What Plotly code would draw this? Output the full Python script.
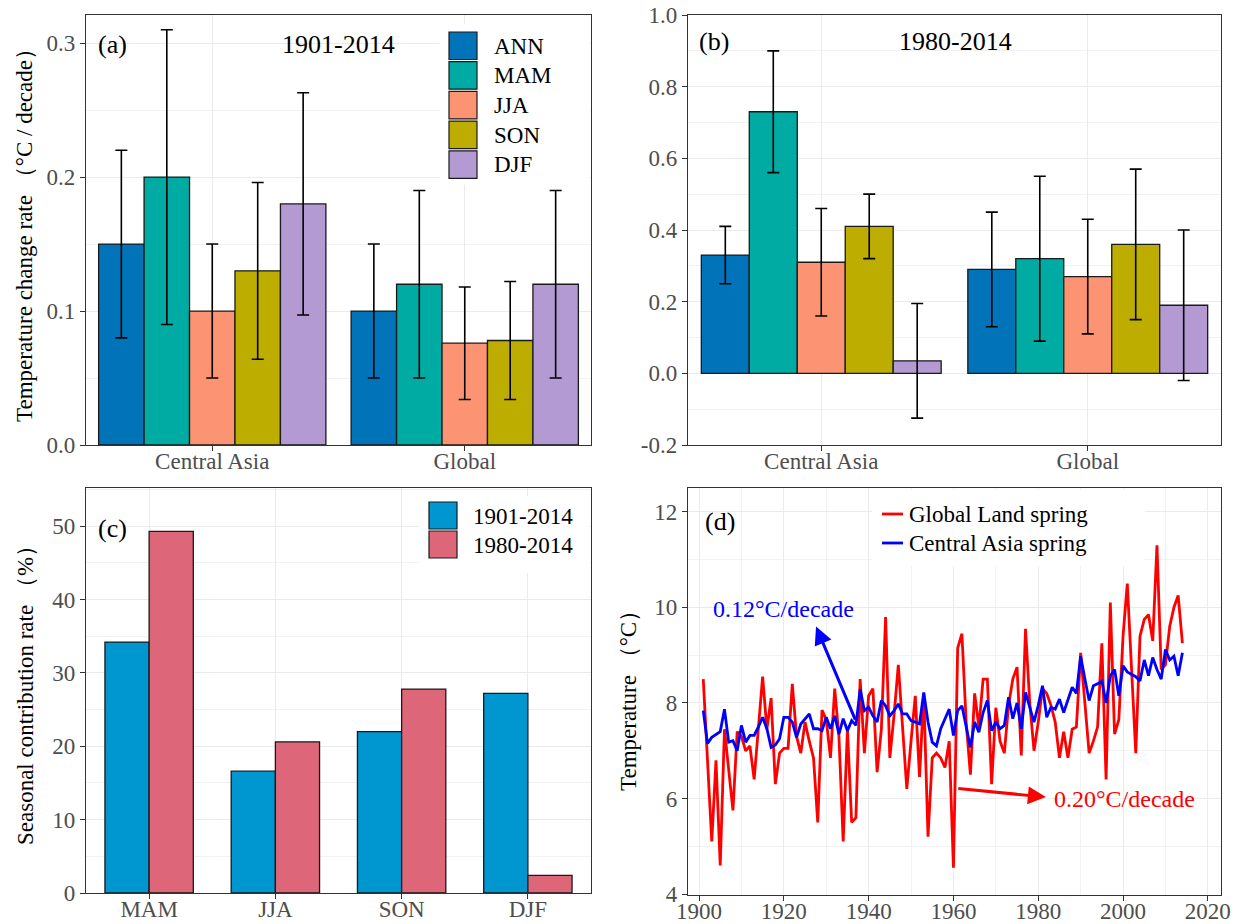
import plotly.graph_objects as go

# ---------------- data ----------------
regions = ["Central Asia", "Global"]
seasons = ["ANN", "MAM", "JJA", "SON", "DJF"]
season_colors = ["#0173B8", "#00ABA3", "#FC9473", "#BDAD00", "#B39AD3"]

# (a) 1901-2014 trend (°C/decade): rows = seasons, cols = regions
a_rates = [[0.150, 0.100], [0.200, 0.120], [0.100, 0.076], [0.130, 0.078], [0.180, 0.120]]
a_low = [[0.080, 0.050], [0.090, 0.050], [0.050, 0.034], [0.064, 0.034], [0.097, 0.050]]
a_high = [[0.220, 0.150], [0.310, 0.190], [0.150, 0.118], [0.196, 0.122], [0.263, 0.190]]

# (b) 1980-2014 trend (°C/decade)
b_rates = [[0.33, 0.29], [0.73, 0.32], [0.31, 0.27], [0.41, 0.36], [0.035, 0.19]]
b_low = [[0.25, 0.13], [0.56, 0.09], [0.16, 0.11], [0.32, 0.15], [-0.125, -0.02]]
b_high = [[0.41, 0.45], [0.90, 0.55], [0.46, 0.43], [0.50, 0.57], [0.195, 0.40]]

# (c) seasonal contribution rate (%)
c_seasons = ["MAM", "JJA", "SON", "DJF"]
c_periods = ["1901-2014", "1980-2014"]
c_1901_2014 = [34.2, 16.6, 22.0, 27.2]
c_1980_2014 = [49.3, 20.6, 27.8, 2.4]
c_colors = ["#0096CF", "#DD6679"]

# (d) spring temperature series (°C)
years = list(range(1901, 2015))
global_land_spring = [
    8.5, 6.8, 5.1, 6.8, 4.6, 7.45, 6.6, 5.75, 7.4, 7.3,
    7.0, 7.1, 6.4, 7.5, 8.55, 7.45, 8.1, 6.3, 6.95, 7.05,
    7.05, 8.4, 7.3, 6.95, 7.6, 7.2, 6.85, 5.5, 7.85, 7.65,
    6.85, 8.3, 7.3, 5.1, 7.45, 5.5, 5.6, 8.5, 6.95, 8.15,
    8.3, 6.55, 7.45, 9.8, 6.85, 7.75, 8.8, 7.5, 6.2, 7.2,
    8.15, 6.45, 8.2, 5.2, 6.85, 6.95, 6.85, 6.65, 7.2, 4.55,
    9.15, 9.45, 7.6, 6.5, 8.2, 7.5, 8.5, 8.5, 6.3, 7.9,
    7.2, 6.95, 7.95, 8.5, 8.75, 6.9, 9.55, 8.0, 7.0, 7.6,
    8.3, 8.2, 7.95, 7.6, 6.85, 7.4, 6.85, 7.45, 7.5, 9.05,
    7.9, 6.95, 7.2, 7.5, 9.25, 6.4, 10.1, 7.35, 7.65, 9.4,
    10.5, 8.7, 6.95, 9.4, 9.75, 9.85, 9.3, 11.3, 8.7, 8.8,
    9.6, 10.0, 10.25, 9.25]
central_asia_spring = [
    7.84, 7.15, 7.28, 7.35, 7.4, 7.87, 7.18, 7.21, 7.0, 7.53,
    7.18, 7.32, 7.32, 7.5, 7.7, 7.46, 7.07, 7.12, 7.25, 7.7,
    7.7, 7.6, 7.28, 7.56, 7.67, 7.77, 7.46, 7.46, 7.42, 7.7,
    7.46, 7.73, 7.35, 7.67, 7.42, 7.63, 7.53, 8.29, 7.84, 7.91,
    7.73, 7.6, 8.05, 7.94, 7.73, 7.84, 7.98, 7.77, 7.77, 7.63,
    7.6, 7.56, 8.22, 7.6, 7.18, 7.1, 7.46, 7.67, 7.87, 7.32,
    7.84, 7.94, 7.5, 7.07, 7.6, 7.39, 7.8, 8.05, 7.42, 7.6,
    7.46, 7.53, 8.12, 7.67, 8.0, 7.46, 8.22, 7.9, 7.6, 7.95,
    8.36, 7.7, 7.91, 7.87, 8.08, 7.8, 8.08, 8.33, 8.2, 8.98,
    8.5, 8.05, 8.36, 8.4, 8.46, 8.0, 8.57, 8.7, 8.15, 8.78,
    8.65, 8.6, 8.55, 8.46, 8.9, 8.57, 8.95, 8.7, 8.5, 9.12,
    8.9, 8.98, 8.57, 9.05]

# ---------------- helpers ----------------
W, H = 1239, 924
SERIF = "Liberation Serif, Times New Roman, serif"


def fx(p):
    return p / W


def fy(p):
    return 1 - p / H


def axis_style(**kw):
    base = dict(
        showline=True, mirror=True, linecolor="#333333", linewidth=1.3,
        ticks="outside", ticklen=5, tickwidth=1.3, tickcolor="#333333",
        tickfont=dict(family=SERIF, size=23, color="#4D4D4D"),
        showgrid=True, gridcolor="#EBEBEB", gridwidth=1.2, zeroline=False,
        automargin=False,
    )
    base.update(kw)
    return base


fig = go.Figure()

# ---------------- (a) and (b) grouped bars ----------------
bw = 0.18
for rates, low, high, xa, ya in [
        (a_rates, a_low, a_high, "x", "y"),
        (b_rates, b_low, b_high, "x2", "y2")]:
    for i, s in enumerate(seasons):
        vals = rates[i]
        plus = [h - v for h, v in zip(high[i], vals)]
        minus = [v - l for v, l in zip(vals, low[i])]
        fig.add_trace(go.Bar(
            x=regions, y=vals, name=s, xaxis=xa, yaxis=ya,
            width=bw, offset=-0.45 + bw * i,
            marker=dict(color=season_colors[i], line=dict(color="#1a1a1a", width=1.3)),
            error_y=dict(type="data", symmetric=False, array=plus, arrayminus=minus,
                         color="black", thickness=1.6, width=6),
            showlegend=False,
        ))

# ---------------- (c) contribution bars ----------------
for j, (vals, per) in enumerate([(c_1901_2014, c_periods[0]), (c_1980_2014, c_periods[1])]):
    fig.add_trace(go.Bar(
        x=c_seasons, y=vals, name=per, xaxis="x3", yaxis="y3",
        width=0.35, offset=-0.35 + 0.35 * j,
        marker=dict(color=c_colors[j], line=dict(color="#1a1a1a", width=1.3)),
        showlegend=False,
    ))

# ---------------- (d) time series ----------------
fig.add_trace(go.Scatter(x=years, y=global_land_spring, mode="lines", name="Global Land spring",
                         line=dict(color="#FF0000", width=2.8), xaxis="x4", yaxis="y4", showlegend=False))
fig.add_trace(go.Scatter(x=years, y=central_asia_spring, mode="lines", name="Central Asia spring",
                         line=dict(color="#0000FF", width=2.8), xaxis="x4", yaxis="y4", showlegend=False))

# ---------------- axes ----------------
ax_a = [fx(86), fx(591)]
ax_b = [fx(688), fx(1221)]
top_y = [fy(445), fy(15)]
bot_y = [fy(895), fy(488)]

fig.update_layout(
    xaxis=axis_style(domain=ax_a, anchor="y", type="category", range=[-0.5, 1.5],
                     categoryorder="array", categoryarray=regions),
    yaxis=axis_style(domain=top_y, anchor="x", range=[0, 0.321],
                     tickvals=[0, 0.1, 0.2, 0.3], ticktext=["0.0", "0.1", "0.2", "0.3"],
                     minor=dict(tickvals=[0.05, 0.15, 0.25], showgrid=True,
                                gridcolor="#F2F2F2", gridwidth=0.8)),
    xaxis2=axis_style(domain=ax_b, anchor="y2", type="category", range=[-0.5, 1.5],
                      categoryorder="array", categoryarray=regions),
    yaxis2=axis_style(domain=top_y, anchor="x2", range=[-0.2, 1.0],
                      tickvals=[-0.2, 0, 0.2, 0.4, 0.6, 0.8, 1.0],
                      ticktext=["-0.2", "0.0", "0.2", "0.4", "0.6", "0.8", "1.0"],
                      minor=dict(tickvals=[-0.1, 0.1, 0.3, 0.5, 0.7, 0.9], showgrid=True,
                                 gridcolor="#F2F2F2", gridwidth=0.8)),
    xaxis3=axis_style(domain=ax_a, anchor="y3", type="category", range=[-0.5, 3.5],
                      categoryorder="array", categoryarray=c_seasons),
    yaxis3=axis_style(domain=[fy(893), fy(488)], anchor="x3", range=[0, 55.2],
                      tickvals=[0, 10, 20, 30, 40, 50],
                      minor=dict(tickvals=[5, 15, 25, 35, 45, 55], showgrid=True,
                                 gridcolor="#F2F2F2", gridwidth=0.8)),
    xaxis4=axis_style(domain=ax_b, anchor="y4", range=[1897.4, 2023.1],
                      tickvals=[1900, 1920, 1940, 1960, 1980, 2000, 2020],
                      minor=dict(tickvals=[1910, 1930, 1950, 1970, 1990, 2010], showgrid=True,
                                 gridcolor="#F2F2F2", gridwidth=0.8)),
    yaxis4=axis_style(domain=bot_y, anchor="x4", range=[3.98, 12.5],
                      tickvals=[4, 6, 8, 10, 12],
                      minor=dict(tickvals=[5, 7, 9, 11], showgrid=True,
                                 gridcolor="#F2F2F2", gridwidth=0.8)),
    barmode="overlay",
    width=W, height=H,
    margin=dict(l=0, r=0, t=0, b=0, autoexpand=False),
    paper_bgcolor="white", plot_bgcolor="white",
    font=dict(family=SERIF, color="black"),
    showlegend=False,
)

# pull x tick labels closer to the axis (ggplot-like spacing)
try:
    fig.update_xaxes(ticklabelstandoff=-10)
except Exception:
    pass

shapes = []
annotations = []

# white legend backgrounds (cover gridlines); drawn first, keys drawn on top
for xr, yr, x0, x1, y0, y1 in [
        ("x domain", "y domain", 0.700, 0.997, 0.605, 0.978),
        ("x3 domain", "y3 domain", 0.660, 0.997, 0.790, 0.980),
        ("x4 domain", "y4 domain", 0.345, 0.857, 0.808, 0.995)]:
    shapes.append(dict(type="rect", xref=xr, yref=yr, x0=x0, x1=x1, y0=y0, y1=y1,
                       fillcolor="white", line=dict(width=0), layer="above"))

# legend (a)
for i, s in enumerate(seasons):
    top = 32 + 29.7 * i
    shapes.append(dict(type="rect", xref="paper", yref="paper",
                       x0=fx(449), x1=fx(477), y0=fy(top + 27.5), y1=fy(top),
                       fillcolor=season_colors[i], line=dict(color="#1a1a1a", width=1.2),
                       layer="above"))
    annotations.append(dict(xref="paper", yref="paper", x=fx(492), y=fy(top + 14),
                            text=s, showarrow=False, xanchor="left", yanchor="middle",
                            font=dict(family=SERIF, size=23, color="black")))

# legend (c)
for j, per in enumerate(c_periods):
    top = 502 + 29 * j
    shapes.append(dict(type="rect", xref="paper", yref="paper",
                       x0=fx(429), x1=fx(457), y0=fy(top + 27), y1=fy(top),
                       fillcolor=c_colors[j], line=dict(color="#1a1a1a", width=1.2),
                       layer="above"))
    annotations.append(dict(xref="paper", yref="paper", x=fx(471), y=fy(top + 14),
                            text=per, showarrow=False, xanchor="left", yanchor="middle",
                            font=dict(family=SERIF, size=23, color="black")))

# legend (d)
for k, (lbl, col) in enumerate([("Global Land spring", "#FF0000"), ("Central Asia spring", "#0000FF")]):
    yy = 514 + 29 * k
    shapes.append(dict(type="line", xref="paper", yref="paper",
                       x0=fx(882), x1=fx(903), y0=fy(yy), y1=fy(yy),
                       line=dict(color=col, width=2.8), layer="above"))
    annotations.append(dict(xref="paper", yref="paper", x=fx(907), y=fy(yy),
                            text=lbl, showarrow=False, xanchor="left", yanchor="middle",
                            font=dict(family=SERIF, size=23, color="black")))

# panel labels and titles
for txt, x, y in [("(a)", 112, 44), ("1901-2014", 338, 44), ("(b)", 714, 42),
                  ("1980-2014", 955, 42), ("(c)", 112, 528), ("(d)", 720, 521)]:
    annotations.append(dict(xref="paper", yref="paper", x=fx(x), y=fy(y), text=txt,
                            showarrow=False, xanchor="center", yanchor="middle",
                            font=dict(family=SERIF, size=26, color="black")))

# y axis titles
for txt, x, y in [("Temperature change rate （°C / decade）", 24, 230),
                  ("Seasonal contribution rate （%）", 25, 690),
                  ("Temperature （°C）", 628, 695)]:
    annotations.append(dict(xref="paper", yref="paper", x=fx(x), y=fy(y), text=txt,
                            showarrow=False, textangle=-90, xanchor="center", yanchor="middle",
                            font=dict(family=SERIF, size=23, color="black")))

# trend arrows and labels in (d)
annotations.append(dict(xref="x4", yref="y4", axref="x4", ayref="y4",
                        x=1927.6, y=9.6, ax=1937.0, ay=7.62, text="", showarrow=True,
                        arrowhead=2, arrowsize=1.2, arrowwidth=3, arrowcolor="#0000FF", standoff=0))
annotations.append(dict(xref="x4", yref="y4", x=1920.0, y=9.96, text="0.12°C/decade",
                        showarrow=False, xanchor="center", yanchor="middle",
                        font=dict(family=SERIF, size=24, color="#0000FF")))
annotations.append(dict(xref="x4", yref="y4", axref="x4", ayref="y4",
                        x=1981.8, y=6.03, ax=1960.8, ay=6.21, text="", showarrow=True,
                        arrowhead=2, arrowsize=1.2, arrowwidth=3, arrowcolor="#FF0000", standoff=0))
annotations.append(dict(xref="x4", yref="y4", x=1983.3, y=6.0, text="0.20°C/decade",
                        showarrow=False, xanchor="left", yanchor="middle",
                        font=dict(family=SERIF, size=24, color="#FF0000")))

fig.update_layout(shapes=shapes, annotations=annotations)

# remove the page's default body margin so the figure sits at the window origin
fig.write_html("out.html",
               config={"displayModeBar": False},
               post_script="document.body.style.margin='0px';document.body.style.padding='0px';")
